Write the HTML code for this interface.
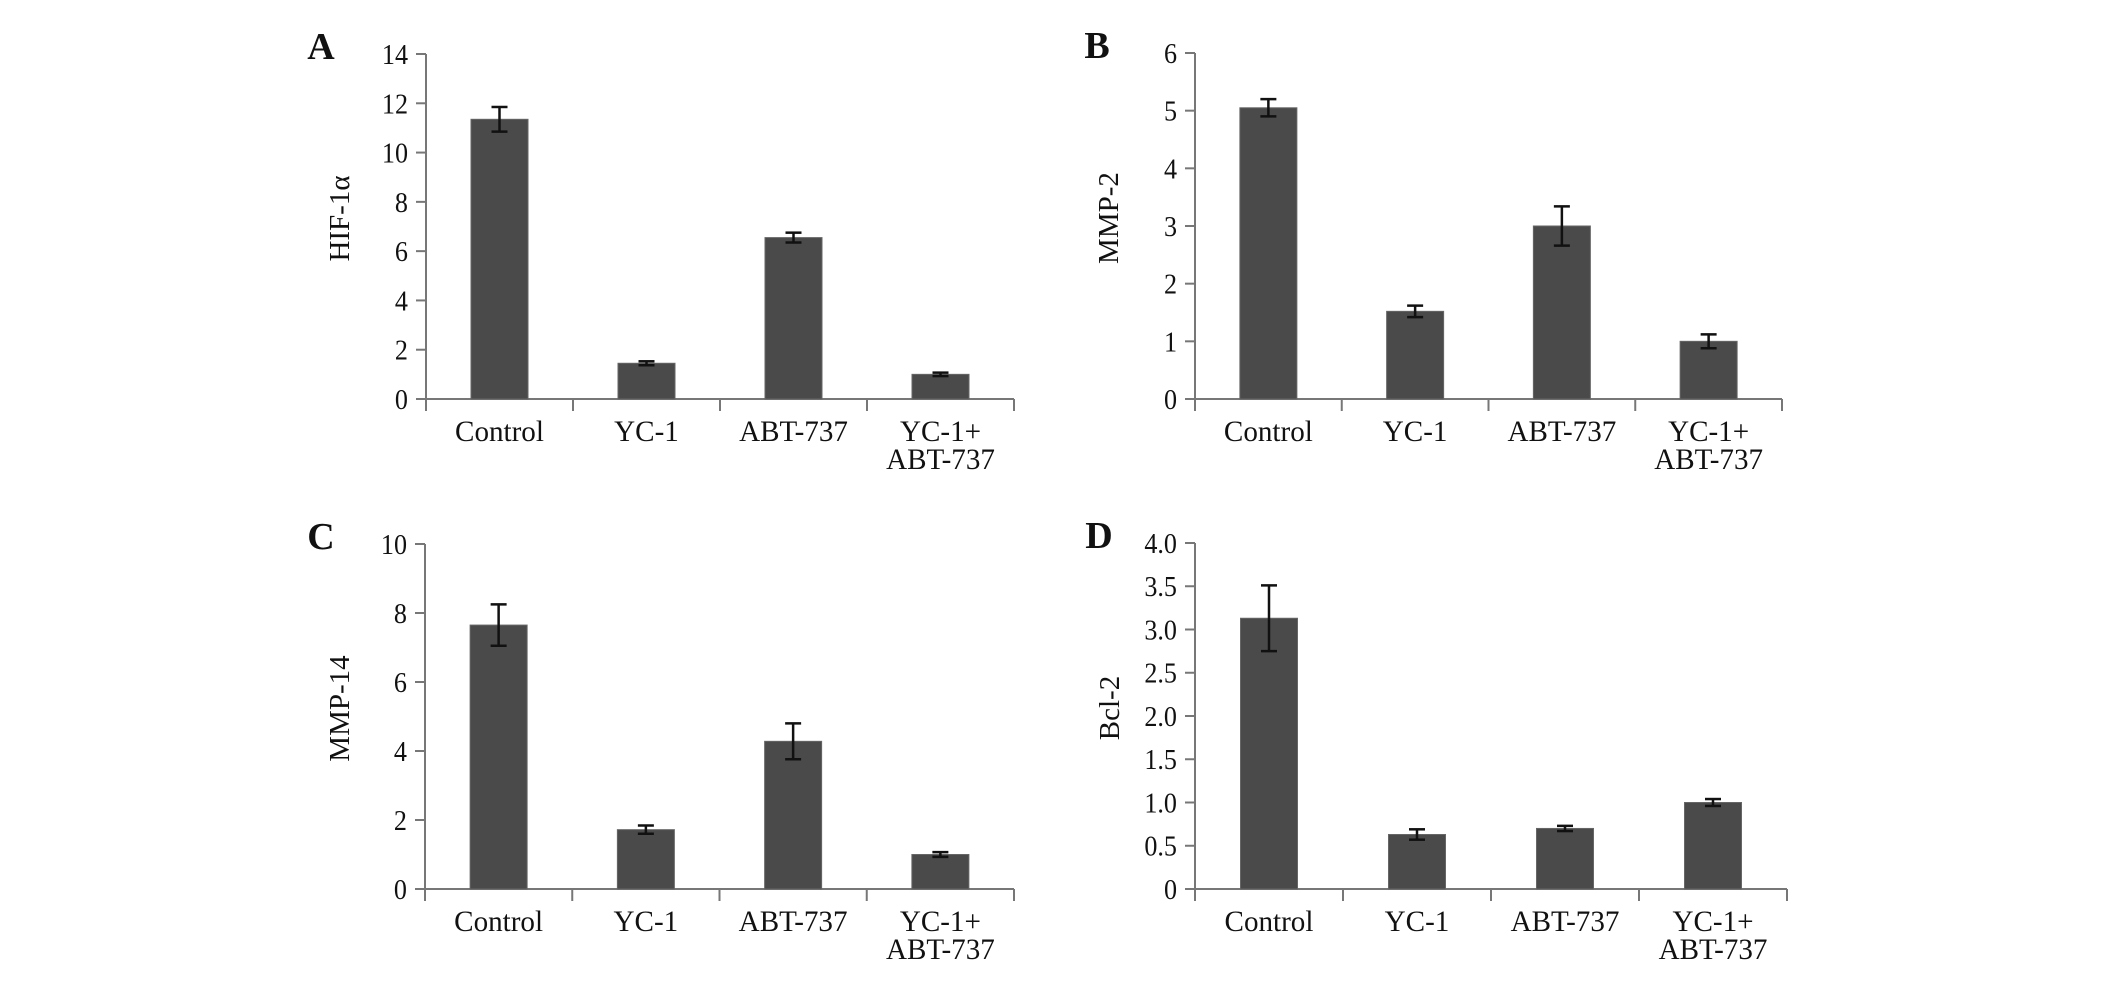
<!DOCTYPE html>
<html><head><meta charset="utf-8"><style>
html,body{margin:0;padding:0;background:#fff;}
svg{display:block;}
text{font-family:"Liberation Serif",serif;fill:#111;}
</style></head><body>
<svg id="fig" width="2126" height="1000" viewBox="0 0 2126 1000" xmlns="http://www.w3.org/2000/svg"></svg>
<script>
const categories = ["Control","YC-1","ABT-737","YC-1+|ABT-737"];
const valuesA = [11.35,1.45,6.55,1.0];
const errorsA = [0.5,0.08,0.2,0.07];
const ticksA = ["0","2","4","6","8","10","12","14"];
const valuesB = [5.05,1.52,3.0,1.0];
const errorsB = [0.15,0.1,0.34,0.12];
const ticksB = ["0","1","2","3","4","5","6"];
const valuesC = [7.65,1.72,4.28,1.0];
const errorsC = [0.6,0.12,0.52,0.07];
const ticksC = ["0","2","4","6","8","10"];
const valuesD = [3.13,0.63,0.70,1.0];
const errorsD = [0.38,0.06,0.03,0.04];
const ticksD = ["0","0.5","1.0","1.5","2.0","2.5","3.0","3.5","4.0"];

const NS="http://www.w3.org/2000/svg";
const svg=document.getElementById('fig');
function mk(tag,attrs,parent){const e=document.createElementNS(NS,tag);for(const k in attrs)e.setAttribute(k,attrs[k]);(parent||svg).appendChild(e);return e;}

function panel(id,letter,ylabel,vals,errs,ticks,x0,x1,yTop,yBot,letterX,ylabelX){
  const g=mk('g',{});
  
  
  const tmin=parseFloat(ticks[0]), tmax=parseFloat(ticks[ticks.length-1]);
  const y=v=>yBot-(v-tmin)/(tmax-tmin)*(yBot-yTop);
  const band=(x1-x0)/categories.length;
  const xc=i=>x0+band*(i+0.5);
  const axisColor="#777";
  const L=mk('text',{x:letterX,y:yTop+5,'font-size':38,'font-weight':'bold','text-anchor':'middle'},g);
  L.textContent=letter;
  
  
  const ya=mk('line',{x1:x0,y1:yTop,x2:x0,y2:yBot+12,stroke:axisColor,'stroke-width':2},g);
  
  
  ticks.forEach(t=>{
    const yy=y(parseFloat(t));
    mk('line',{x1:x0-10,y1:yy,x2:x0,y2:yy,stroke:axisColor,'stroke-width':2},g);
    const tt=mk('text',{x:x0-18,y:yy+10,'font-size':29,'text-anchor':'end',transform:`translate(${x0-18},0) scale(0.9,1) translate(${-(x0-18)},0)`},g);
    tt.textContent=t;
    
    
  });
  const xa=mk('line',{x1:x0,y1:yBot,x2:x1,y2:yBot,stroke:axisColor,'stroke-width':2},g);
  
  
  for(let i=1;i<=categories.length;i++){
    mk('line',{x1:x0+band*i,y1:yBot,x2:x0+band*i,y2:yBot+12,stroke:axisColor,'stroke-width':2},g);
  }
  const yl=mk('text',{x:ylabelX,y:(yTop+yBot)/2-8,'font-size':29,'text-anchor':'middle',transform:`rotate(-90 ${ylabelX} ${(yTop+yBot)/2-8})`},g);
  yl.textContent=ylabel;
  
  
  vals.forEach((v,i)=>{
    const bw=57;
    const b=mk('rect',{x:xc(i)-bw/2,y:y(v),width:bw,height:yBot-y(v),fill:'#4a4a4a',stroke:'#666','stroke-width':1},g);
    
    
    const e=errs[i];
    const eg=mk('g',{stroke:'#111','stroke-width':2.5},g);
    
    
    mk('line',{x1:xc(i),y1:y(v+e),x2:xc(i),y2:y(v-e)},eg);
    mk('line',{x1:xc(i)-8,y1:y(v+e),x2:xc(i)+8,y2:y(v+e)},eg);
    mk('line',{x1:xc(i)-8,y1:y(v-e),x2:xc(i)+8,y2:y(v-e)},eg);
  });
  categories.forEach((c,i)=>{
    const parts=c.split('|');
    parts.forEach((p,j)=>{
      const cx=xc(i);
      const t=mk('text',{x:cx,y:yBot+42+j*28,'font-size':30,'text-anchor':'middle',transform:`translate(${cx},0) scale(0.97,1) translate(${-cx},0)`},g);
      t.textContent=p;
      
      
    });
  });
}
panel('a','A','HIF-1α',valuesA,errorsA,ticksA,426,1014,54,399,321,349);
panel('b','B','MMP-2',valuesB,errorsB,ticksB,1195,1782,53,399,1097,1118);
panel('c','C','MMP-14',valuesC,errorsC,ticksC,425,1014,544,889,321,349);
panel('d','D','Bcl-2',valuesD,errorsD,ticksD,1195,1787,543,889,1099,1119);
</script>
</body></html>
